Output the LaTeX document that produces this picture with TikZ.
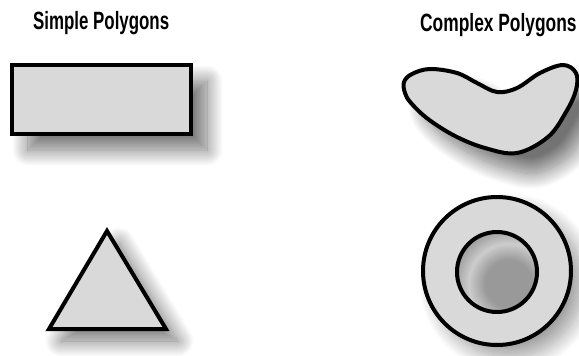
\documentclass[tikz,border=0pt]{standalone}
\usepackage{fontspec}
\setmainfont{Liberation Sans}
\usetikzlibrary{shadows.blur}
\definecolor{shapefill}{RGB}{217,217,217}
\begin{document}
\begin{tikzpicture}[x=1pt,y=-1pt,
  title/.style={inner sep=0pt, anchor=base west, font=\fontsize{25}{27}\selectfont\bfseries},
  poly/.style={draw=black, fill=shapefill, line width=4pt, line join=round},
  shad/.style={blur shadow={shadow xshift=#1, shadow yshift=-#1, shadow blur radius=16pt, shadow blur steps=24, shadow opacity=55}}
]
\useasboundingbox (0,0) rectangle (579,356);
% titles
\node[title] (simple) at (33,30) {\scalebox{0.675}[1]{Simple Polygons}};
\node[title] (complex) at (420,31) {\scalebox{0.695}[1]{Complex Polygons}};
% rectangle
\draw[poly, line width=4.5pt, line join=miter, shad=16pt] (12,65) rectangle (191,134);
% triangle
\draw[poly, line join=miter, shad=12pt] (107,231) -- (166,329) -- (49,329) -- cycle;
% kidney
\draw[poly, shad=20pt] plot[smooth cycle, tension=0.6] coordinates {
  (404,82) (412,74) (430,69) (457,73) (477,83) (497,92) (517,88) (540,73)
  (563,65) (576,73) (576,90) (566,112) (548,137) (517,153) (485,148)
  (455,136) (428,119) (411,103) (405,93)};
% ring
\draw[poly, even odd rule, blur shadow={shadow xshift=12pt, shadow yshift=-12pt, shadow blur radius=16pt, shadow blur steps=24, shadow opacity=40}]
  (497,271) circle[radius=74] (497,272) circle[radius=40];
\end{tikzpicture}
\end{document}
